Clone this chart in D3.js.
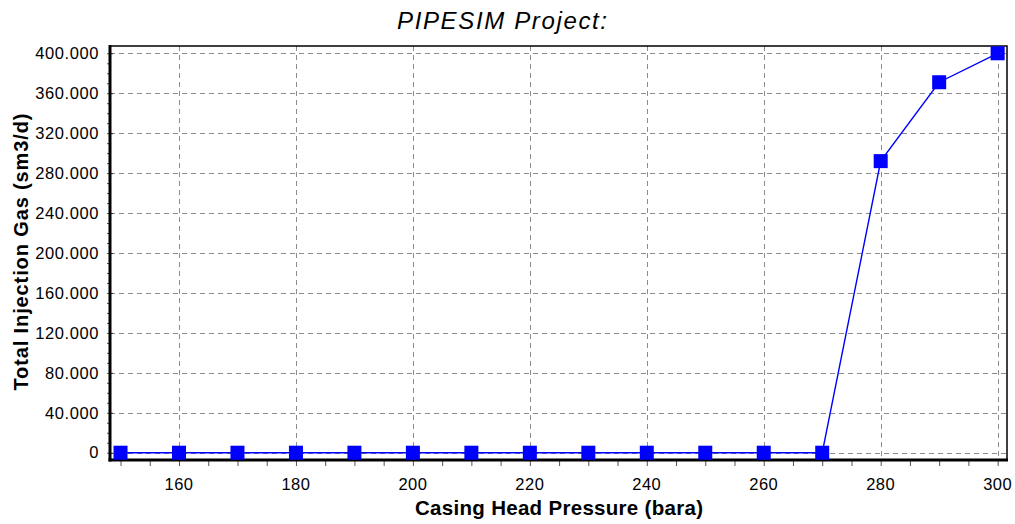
<!DOCTYPE html>
<html>
<head>
<meta charset="utf-8">
<script src="https://cdn.jsdelivr.net/npm/d3@7"></script>
<style>
  body { margin: 0; background: #fff; }
  svg { display: block; font-family: "Liberation Sans", Arial, sans-serif; }
</style>
</head>
<body>
<svg id="chart" width="1015" height="524"></svg>
<script>
// chart data
var pressures = [150, 160, 170, 180, 190, 200, 210, 220, 230, 240, 250, 260, 270, 280, 290, 300];
var injectionGas = [0, 0, 0, 0, 0, 0, 0, 0, 0, 0, 0, 0, 0, 292000, 371000, 400000];
var xTicks = [160, 180, 200, 220, 240, 260, 280, 300];
var yTicks = [0, 40000, 80000, 120000, 160000, 200000, 240000, 280000, 320000, 360000, 400000];

var titleText = "PIPESIM Project:";
var xLabel = "Casing Head Pressure (bara)";
var yLabel = "Total Injection Gas (sm3/d)";

{
    var plot = {left: 110, right: 1007, top: 46, bottom: 460};
    var svg = d3.select("#chart");

    var x = d3.scaleLinear().domain([148.2, 301.6]).range([plot.left, plot.right]);
    var y = d3.scaleLinear().domain([-7300, 407300]).range([plot.bottom, plot.top]);

    // thousands with a dot, like the original
    var fmt = v => d3.format(",")(v).replace(/,/g, ".");

    // grid
    var grid = svg.append("g")
        .attr("stroke", "#8c8c8c")
        .attr("stroke-width", 1)
        .attr("stroke-dasharray", "5,4");
    grid.selectAll(".gx")
        .data(xTicks)
        .enter().append("line")
        .attr("x1", d => Math.round(x(d)) + 0.5)
        .attr("x2", d => Math.round(x(d)) + 0.5)
        .attr("y1", plot.top)
        .attr("y2", plot.bottom);
    grid.selectAll(".gy")
        .data(yTicks)
        .enter().append("line")
        .attr("y1", d => Math.round(y(d)) + 0.5)
        .attr("y2", d => Math.round(y(d)) + 0.5)
        .attr("x1", plot.left)
        .attr("x2", plot.right);

    // frame: thin top / right
    svg.append("rect")
        .attr("x", plot.left)
        .attr("y", plot.top)
        .attr("width", plot.right - plot.left)
        .attr("height", plot.bottom - plot.top)
        .attr("fill", "none")
        .attr("stroke", "#000")
        .attr("stroke-width", 1.5);

    // x axis
    var xMinor = d3.range(150, 301, 5);
    var xAxis = svg.append("g")
        .attr("transform", `translate(0,${plot.bottom})`)
        .call(d3.axisBottom(x).tickValues(xMinor).tickSize(6).tickFormat(""));
    xAxis.select(".domain").remove();
    xAxis.selectAll("line").attr("stroke", "#555");

    svg.append("g")
        .selectAll("text")
        .data(xTicks)
        .enter().append("text")
        .attr("x", d => x(d))
        .attr("y", 490)
        .attr("text-anchor", "middle")
        .attr("font-size", 16.5)
        .attr("letter-spacing", 0.5)
        .attr("fill", "#000")
        .text(d => d);

    // y axis
    var yMinor = d3.range(0, 400001, 10000);
    var yAxisMinor = svg.append("g")
        .attr("transform", `translate(${plot.left},0)`)
        .call(d3.axisLeft(y).tickValues(yMinor).tickSize(3).tickFormat(""));
    yAxisMinor.select(".domain").remove();
    yAxisMinor.selectAll("line").attr("stroke", "#555");

    var yAxisMajor = svg.append("g")
        .attr("transform", `translate(${plot.left},0)`)
        .call(d3.axisLeft(y).tickValues(yTicks).tickSize(6).tickPadding(5).tickFormat(fmt));
    yAxisMajor.select(".domain").remove();
    yAxisMajor.selectAll("line").attr("stroke", "#333").attr("x2", 3);
    yAxisMajor.selectAll("text")
        .attr("font-size", 16.5)
        .attr("letter-spacing", 0.6)
        .attr("font-family", "'Liberation Sans', Arial, sans-serif")
        .attr("fill", "#000");

    // thick axis lines
    svg.append("line")
        .attr("x1", plot.left).attr("x2", plot.left)
        .attr("y1", plot.top - 1).attr("y2", plot.bottom + 1.5)
        .attr("stroke", "#000").attr("stroke-width", 3);
    svg.append("line")
        .attr("x1", plot.left - 1.5).attr("x2", plot.right + 1)
        .attr("y1", plot.bottom).attr("y2", plot.bottom)
        .attr("stroke", "#000").attr("stroke-width", 3);

    // series
    var points = pressures.map((p, i) => ({p: p, v: injectionGas[i]}));
    var line = d3.line().x(d => x(d.p)).y(d => y(d.v));
    svg.append("path")
        .datum(points)
        .attr("d", line)
        .attr("fill", "none")
        .attr("stroke", "#0000ff")
        .attr("stroke-width", 1.4);

    var size = 14;
    svg.append("g")
        .selectAll("rect")
        .data(points)
        .enter().append("rect")
        .attr("x", d => x(d.p) - size / 2)
        .attr("y", d => y(d.v) - size / 2)
        .attr("width", size)
        .attr("height", size)
        .attr("fill", "#0000ff");

    // titles
    svg.append("text")
        .attr("x", 502)
        .attr("y", 29)
        .attr("text-anchor", "middle")
        .attr("font-size", 24)
        .attr("font-style", "italic")
        .attr("textLength", 210)
        .attr("lengthAdjust", "spacing")
        .text(titleText);

    svg.append("text")
        .attr("x", 559)
        .attr("y", 515)
        .attr("text-anchor", "middle")
        .attr("font-size", 20.5)
        .attr("font-weight", "bold")
        .attr("textLength", 288)
        .attr("lengthAdjust", "spacing")
        .text(xLabel);

    svg.append("text")
        .attr("transform", "translate(28,252) rotate(-90)")
        .attr("text-anchor", "middle")
        .attr("font-size", 20)
        .attr("font-weight", "bold")
        .attr("textLength", 277)
        .attr("lengthAdjust", "spacing")
        .text(yLabel);
}
</script>
</body>
</html>
